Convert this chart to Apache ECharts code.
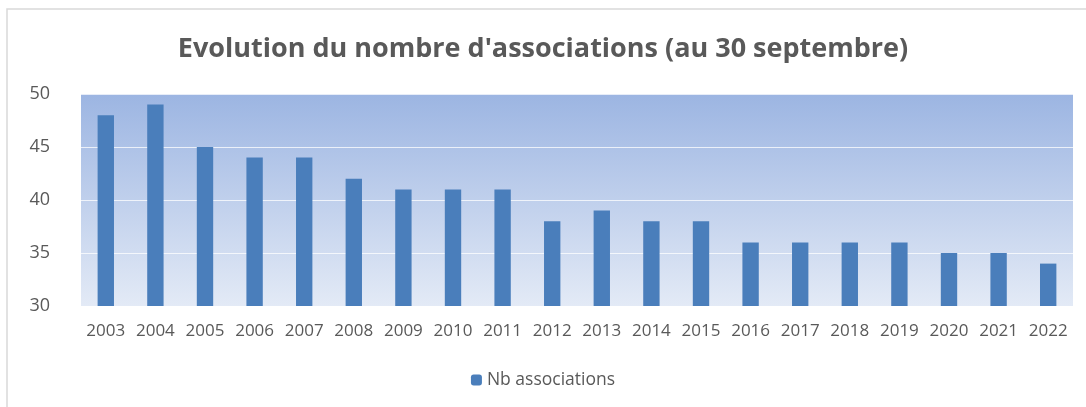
<!DOCTYPE html>
<html>
<head>
<meta charset="utf-8">
<script src="https://cdn.jsdelivr.net/npm/echarts@6/dist/echarts.min.js"></script>
<style>
  html, body { margin: 0; padding: 0; background: #fff; }
  #main { width: 1086px; height: 407px; }
</style>
</head>
<body>
<div id="main"></div>
<script>
var years = ['2003','2004','2005','2006','2007','2008','2009','2010','2011','2012',
             '2013','2014','2015','2016','2017','2018','2019','2020','2021','2022'];
var counts = [48, 49, 45, 44, 44, 42, 41, 41, 41, 38, 39, 38, 38, 36, 36, 36, 36, 35, 35, 34];

var chart = echarts.init(document.getElementById('main'));
var option = {
  animation: false,
  title: {
    text: "Evolution du nombre d'associations (au 30 septembre)",
    left: 'center',
    top: 31,
    textStyle: {
      fontFamily: 'Open Sans',
      fontSize: 27,
      fontWeight: 'bold',
      color: '#595959'
    }
  },
  graphic: [{
    type: 'rect',
    shape: { x: 7, y: 9, width: 1090, height: 410 },
    style: { fill: 'none', stroke: '#d9d9d9', lineWidth: 1.5 },
    z: -10
  }],
  legend: {
    bottom: 13,
    left: 'center',
    itemWidth: 11,
    itemHeight: 11,
    itemGap: 5,
    textStyle: { fontFamily: 'Open Sans', fontSize: 17.5, color: '#595959' },
    data: ['Nb associations']
  },
  grid: {
    left: 81,
    right: 13,
    top: 94,
    bottom: 101,
    show: true,
    borderWidth: 0,
    backgroundColor: {
      type: 'linear', x: 0, y: 0, x2: 0, y2: 1,
      colorStops: [
        { offset: 0, color: '#9cb5e2' },
        { offset: 1, color: '#e3eaf6' }
      ]
    }
  },
  xAxis: {
    type: 'category',
    data: years,
    axisLine: { show: false },
    axisTick: { show: false },
    axisLabel: {
      interval: 0,
      hideOverlap: false,
      fontFamily: 'Open Sans',
      fontSize: 17,
      color: '#595959',
      margin: 17
    }
  },
  yAxis: {
    type: 'value',
    min: 30,
    max: 50,
    interval: 5,
    axisLine: { show: false },
    axisTick: { show: false },
    axisLabel: { fontFamily: 'Open Sans', fontSize: 18, color: '#595959', margin: 31 },
    splitLine: { lineStyle: { color: 'rgba(255,255,255,0.75)', width: 1 } }
  },
  series: [{
    name: 'Nb associations',
    type: 'bar',
    data: counts,
    barWidth: '33%',
    itemStyle: { color: '#4a7ebb' }
  }]
};
chart.setOption(option);
</script>
</body>
</html>
